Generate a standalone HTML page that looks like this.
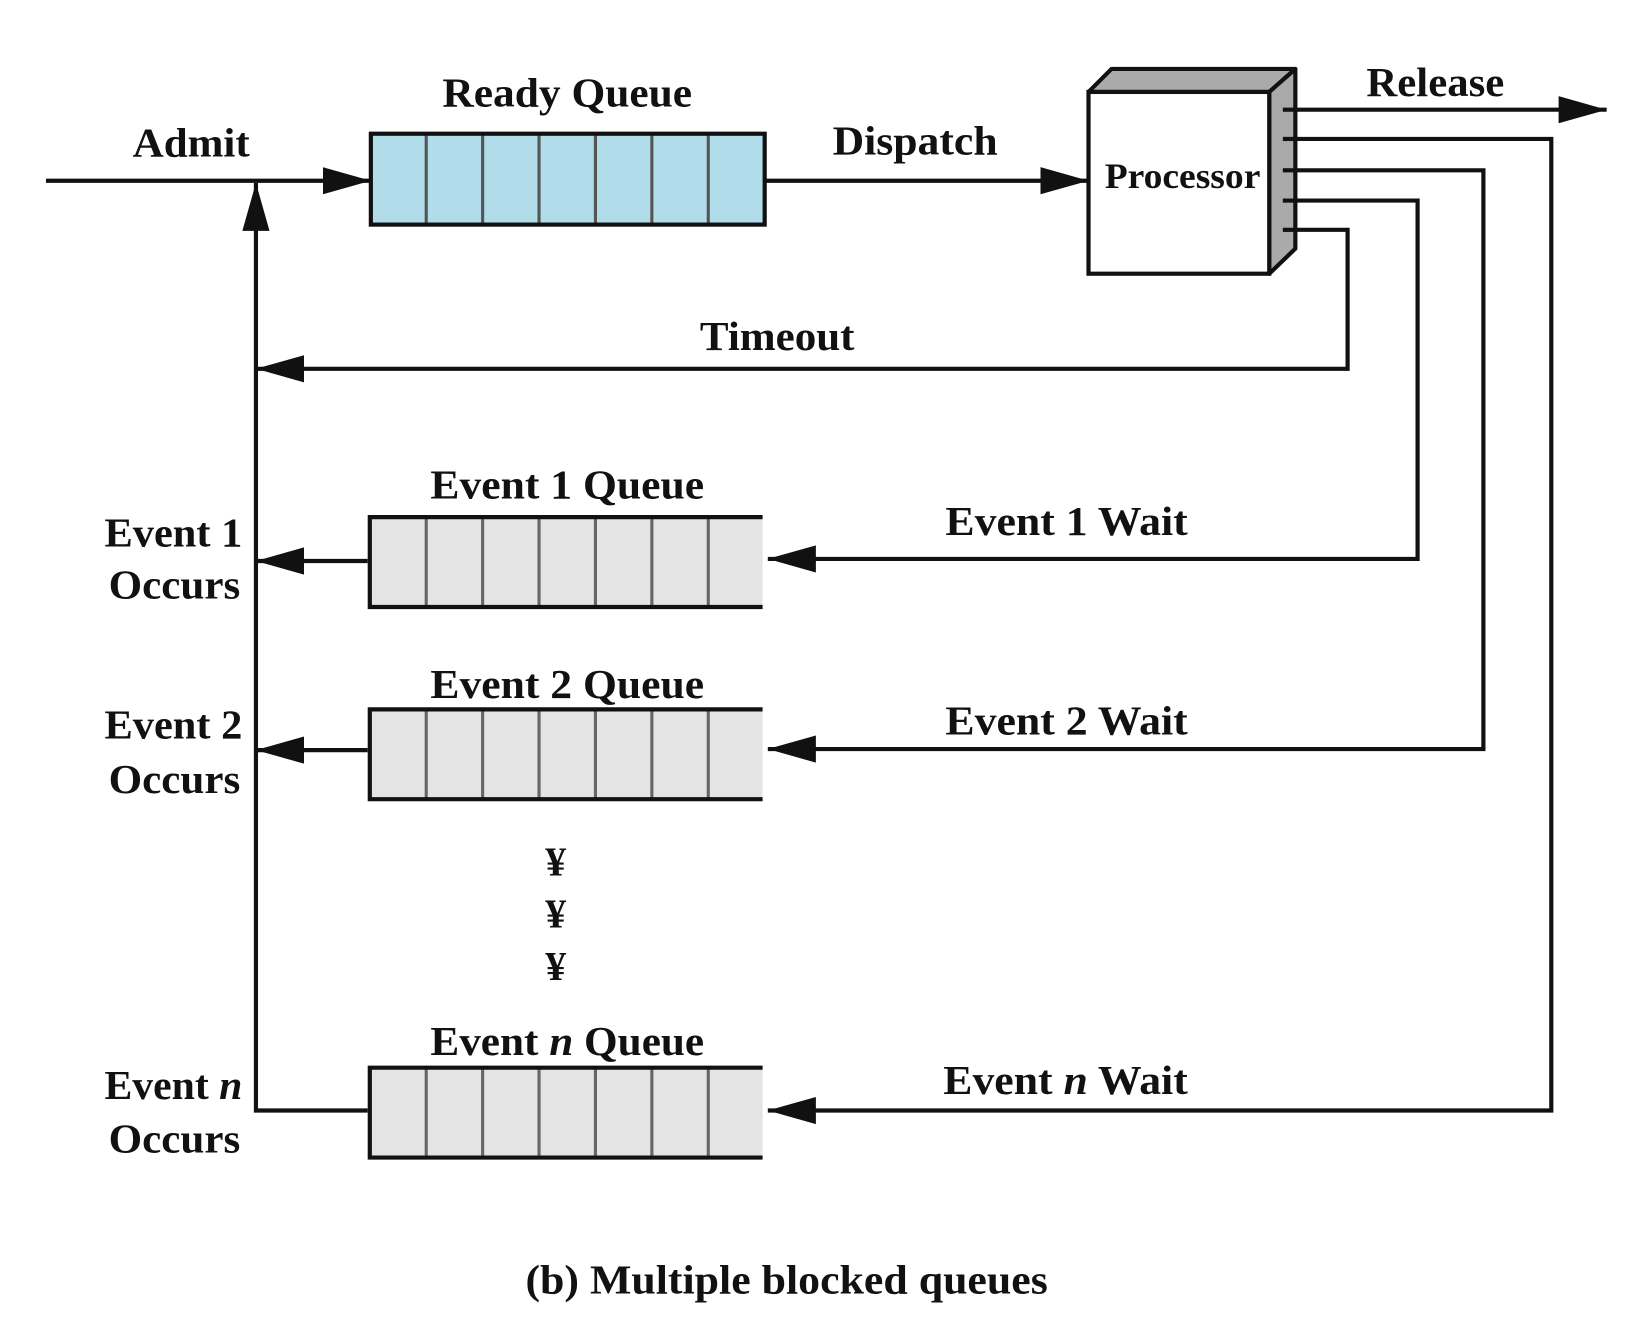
<!DOCTYPE html>
<html><head><meta charset="utf-8"><style>html,body{margin:0;padding:0;background:#fff}svg{display:block}text{font-family:"Liberation Serif",serif;font-weight:bold;fill:#111}</style></head>
<body>
<svg width="1638" height="1332" viewBox="0 0 1568 1275" preserveAspectRatio="none" xmlns="http://www.w3.org/2000/svg">
<defs>
<marker id="a" markerWidth="48" markerHeight="30" refX="46" refY="15" orient="auto" markerUnits="userSpaceOnUse"><path d="M0,2 L46,15 L0,28 Z" fill="#111"/></marker>
</defs>
<g stroke="#111" stroke-width="4" fill="none">
<line x1="44" y1="173" x2="355" y2="173" marker-end="url(#a)"/>
<line x1="732" y1="173" x2="1042" y2="173" marker-end="url(#a)"/>
<line x1="1228" y1="105" x2="1538" y2="105" marker-end="url(#a)"/>
<polyline points="1228,133 1485,133 1485,1063 735,1063" marker-end="url(#a)"/>
<polyline points="1228,163 1420,163 1420,717 735,717" marker-end="url(#a)"/>
<polyline points="1228,192 1357,192 1357,535 735,535" marker-end="url(#a)"/>
<polyline points="1228,220 1290,220 1290,353 245,353" marker-end="url(#a)"/>
<polyline points="352,1063 245,1063 245,175" marker-end="url(#a)"/>
<line x1="352" y1="537" x2="245" y2="537" marker-end="url(#a)"/>
<line x1="352" y1="718" x2="245" y2="718" marker-end="url(#a)"/>
</g>
<rect x="355" y="128" width="377" height="87" fill="#b0dde9"/>
<g stroke="#555" stroke-width="3">
<line x1="408" y1="128" x2="408" y2="215"/><line x1="462" y1="128" x2="462" y2="215"/><line x1="516" y1="128" x2="516" y2="215"/><line x1="570" y1="128" x2="570" y2="215"/><line x1="624" y1="128" x2="624" y2="215"/><line x1="678" y1="128" x2="678" y2="215"/>
</g>
<rect x="355" y="128" width="377" height="87" fill="none" stroke="#111" stroke-width="4"/>
<g id="q1">
<rect x="352" y="495" width="378" height="86" fill="#e4e4e4"/>
<g stroke="#666" stroke-width="3"><line x1="408" y1="495" x2="408" y2="581"/><line x1="462" y1="495" x2="462" y2="581"/><line x1="516" y1="495" x2="516" y2="581"/><line x1="570" y1="495" x2="570" y2="581"/><line x1="624" y1="495" x2="624" y2="581"/><line x1="678" y1="495" x2="678" y2="581"/></g>
<polyline points="730,495 354,495 354,581 730,581" fill="none" stroke="#111" stroke-width="4"/>
</g>
<use href="#q1" y="184"/>
<use href="#q1" y="527"/>
<polygon points="1042,88 1064,66 1240,66 1215,88" fill="#aaa" stroke="#111" stroke-width="4" stroke-linejoin="round"/>
<polygon points="1215,88 1240,66 1240,238 1215,262" fill="#aaa" stroke="#111" stroke-width="4" stroke-linejoin="round"/>
<rect x="1042" y="88" width="173" height="174" fill="#fff" stroke="#111" stroke-width="4"/>
<g stroke="#111" stroke-width="4">
<line x1="1228" y1="105" x2="1242" y2="105"/><line x1="1228" y1="133" x2="1242" y2="133"/><line x1="1228" y1="163" x2="1242" y2="163"/><line x1="1228" y1="192" x2="1242" y2="192"/><line x1="1228" y1="220" x2="1242" y2="220"/>
</g>
<text x="183" y="150" font-size="40" text-anchor="middle" textLength="112" lengthAdjust="spacingAndGlyphs">Admit</text>
<text x="543" y="102" font-size="40" text-anchor="middle" textLength="239" lengthAdjust="spacingAndGlyphs">Ready Queue</text>
<text x="876" y="148" font-size="40" text-anchor="middle" textLength="158" lengthAdjust="spacingAndGlyphs">Dispatch</text>
<text x="1132" y="180" font-size="34" text-anchor="middle" textLength="149" lengthAdjust="spacingAndGlyphs">Processor</text>
<text x="1374" y="92" font-size="40" text-anchor="middle" textLength="132" lengthAdjust="spacingAndGlyphs">Release</text>
<text x="744" y="335" font-size="40" text-anchor="middle" textLength="148" lengthAdjust="spacingAndGlyphs">Timeout</text>
<text x="543" y="477" font-size="40" text-anchor="middle" textLength="262" lengthAdjust="spacingAndGlyphs">Event 1 Queue</text>
<text x="543" y="668" font-size="40" text-anchor="middle" textLength="262" lengthAdjust="spacingAndGlyphs">Event 2 Queue</text>
<text x="543" y="1010" font-size="40" text-anchor="middle" textLength="262" lengthAdjust="spacingAndGlyphs">Event <tspan font-style="italic">n</tspan> Queue</text>
<text x="1021" y="512" font-size="40" text-anchor="middle" textLength="232" lengthAdjust="spacingAndGlyphs">Event 1 Wait</text>
<text x="1021" y="703" font-size="40" text-anchor="middle" textLength="232" lengthAdjust="spacingAndGlyphs">Event 2 Wait</text>
<text x="1020" y="1047" font-size="40" text-anchor="middle" textLength="234" lengthAdjust="spacingAndGlyphs">Event <tspan font-style="italic">n</tspan> Wait</text>
<text x="166" y="523" font-size="40" text-anchor="middle" textLength="132" lengthAdjust="spacingAndGlyphs">Event 1</text>
<text x="167" y="573" font-size="40" text-anchor="middle" textLength="126" lengthAdjust="spacingAndGlyphs">Occurs</text>
<text x="166" y="707" font-size="40" text-anchor="middle" textLength="132" lengthAdjust="spacingAndGlyphs">Event 2</text>
<text x="167" y="759" font-size="40" text-anchor="middle" textLength="126" lengthAdjust="spacingAndGlyphs">Occurs</text>
<text x="166" y="1052" font-size="40" text-anchor="middle" textLength="132" lengthAdjust="spacingAndGlyphs">Event <tspan font-style="italic">n</tspan></text>
<text x="167" y="1103" font-size="40" text-anchor="middle" textLength="126" lengthAdjust="spacingAndGlyphs">Occurs</text>
<text x="532" y="838" font-size="40" text-anchor="middle">¥</text>
<text x="532" y="888" font-size="40" text-anchor="middle">¥</text>
<text x="532" y="938" font-size="40" text-anchor="middle">¥</text>
<text x="753" y="1238" font-size="40" text-anchor="middle" textLength="500" lengthAdjust="spacingAndGlyphs">(b) Multiple blocked queues</text>
</svg>
</body></html>
